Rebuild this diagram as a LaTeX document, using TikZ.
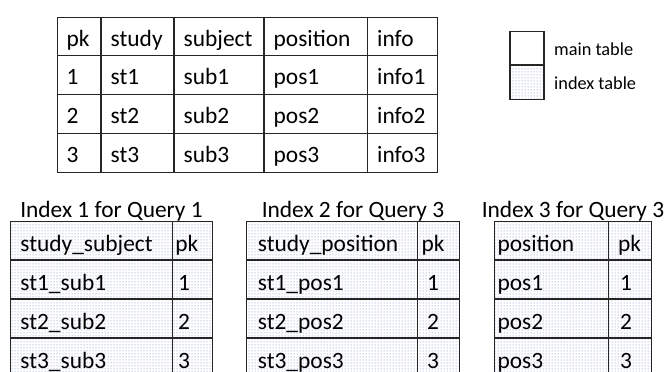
\documentclass[tikz,border=0pt]{standalone}
\usepackage{fontspec}
\setmainfont{Carlito}
\usetikzlibrary{patterns}
\definecolor{dotblue}{RGB}{105,125,185}
\begin{document}
\begin{tikzpicture}[x=1pt,y=-1pt,
  grid/.style={draw=black!85,line width=1.3pt},
  idx/.style={pattern=dots,pattern color=dotblue},
  txt/.style={anchor=base west,inner sep=0pt,font=\fontsize{23.4}{28}\selectfont},
  ttl/.style={anchor=base,inner sep=0pt,font=\fontsize{23.4}{28}\selectfont},
  leg/.style={anchor=base west,inner sep=0pt,font=\fontsize{18.3}{22}\selectfont}]
\useasboundingbox (0,0) rectangle (670,372);
\clip (0,0) rectangle (670,372);

% main table
\draw[grid] (57.3,17.3) rectangle (437.7,172.3);
\foreach \x in {101,174,264,367.3} \draw[grid] (\x,17.3) -- (\x,172.3);
\foreach \y in {55.7,94.3,133.3} \draw[grid] (57.3,\y) -- (437.7,\y);
\foreach [count=\i] \a/\b/\c/\d/\e/\y in {pk/study/subject/position/info/46,1/st1/sub1/pos1/info1/84.4,2/st2/sub2/pos2/info2/123,3/st3/sub3/pos3/info3/162}{
  \node[txt] (ma\i) at (66.5,\y) {\a};
  \node[txt] (mb\i) at (110.5,\y) {\b};
  \node[txt] (mc\i) at (183.5,\y) {\c};
  \node[txt] (md\i) at (273.5,\y) {\d};
  \node[txt] (me\i) at (377,\y) {\e};
}

% legend
\fill[white] (510,31.7) rectangle (544,65);
\fill[idx] (510,65) rectangle (544,99.3);
\draw[grid] (510,31.7) rectangle (544,99.3);
\draw[grid] (510,65) -- (544,65);
\node[leg] (legmain) at (554,55.7) {main table};
\node[leg] (legidx) at (554,89) {index table};

% index tables
\foreach \t/\L/\M/\R/\pa/\pb/\pc/\ka/\kb/\kc/\kd/\title in {
  1/10.7/172.3/212.3/9.5/2.8/5.5/study\_subject/st1\_sub1/st2\_sub2/st3\_sub3/Index 1 for Query 1,
  2/246.7/417.3/459.3/11/4/9.5/study\_position/st1\_pos1/st2\_pos2/st3\_pos3/Index 2 for Query 3,
  3/494.3/608.3/651.7/3/9.5/11.5/position/pos1/pos2/pos3/Index 3 for Query 3}{
  \fill[idx] (\L,221.7) rectangle (\R,380);
  \draw[grid] (\L,380) -- (\L,221.7) -- (\R,221.7) -- (\R,380);
  \draw[grid] (\M,221.7) -- (\M,380);
  \foreach \y in {260,299,338} \draw[grid] (\L,\y) -- (\R,\y);
  \node[ttl] (title\t) at ({(\L+\R)/2},217) {\title};
  \node[txt] (ia\t) at ({\L+\pa},251.7) {\ka};
  \node[txt] (ib\t) at ({\L+\pa},290) {\kb};
  \node[txt] (ic\t) at ({\L+\pa},329) {\kc};
  \node[txt] (id\t) at ({\L+\pa},368) {\kd};
  \node[txt] (pa\t) at ({\M+\pb},251.7) {pk};
  \node[txt] (pb\t) at ({\M+\pc},290) {1};
  \node[txt] (pc\t) at ({\M+\pc},329) {2};
  \node[txt] (pd\t) at ({\M+\pc},368) {3};
}
\end{tikzpicture}
\end{document}
